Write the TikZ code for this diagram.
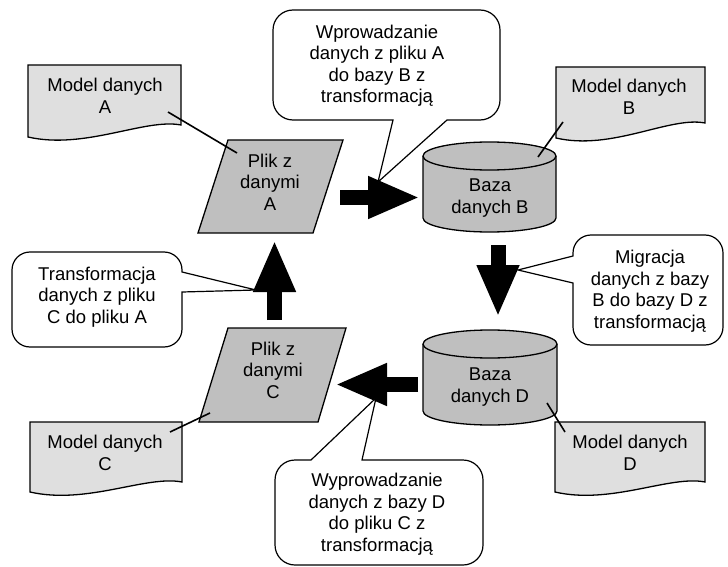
\documentclass[tikz,border=0pt]{standalone}
\usepackage{fontspec}
\setmainfont{Liberation Sans}
\usetikzlibrary{arrows.meta}

\begin{document}
\begin{tikzpicture}[x=1pt,y=1pt,
  tekst/.style={align=center,font=\fontsize{18.5}{21.5}\selectfont,inner sep=0pt},
  model/.style={draw,line width=1.3pt,fill=gray!25},
  ksztalt/.style={draw,line width=1.3pt,fill=gray!50},
  dymek/.style={draw,line width=1.2pt,fill=white},
  odnosnik/.style={line width=1.6pt},
  strzalka/.style={line width=15pt,-{Triangle[length=52pt,width=39pt]}}]

\useasboundingbox (0,0) rectangle (728,-567);

% modele danych
\draw[model] (28,-65) -- (181,-65) -- (181,-125) .. controls (145,-118) and (85,-150) .. (28,-137) -- cycle;
\draw[model] (556,-67) -- (705,-67) -- (705,-123) .. controls (670,-116) and (612,-151) .. (556,-138) -- cycle;
\draw[model] (30,-422) -- (182,-422) -- (182,-482) .. controls (146,-475) and (87,-505) .. (30,-492) -- cycle;
\draw[model] (555,-422) -- (705,-422) -- (705,-482) .. controls (670,-475) and (611,-505) .. (555,-492) -- cycle;

% pliki
\draw[ksztalt] (228,-140) -- (343,-140) -- (313,-233) -- (198,-233) -- cycle;
\draw[ksztalt] (228,-328) -- (346,-328) -- (318,-422) -- (199,-422) -- cycle;

% bazy
\draw[ksztalt] (423,-156) -- (423,-218) arc[start angle=180,end angle=360,x radius=66.5,y radius=14]
  -- (556,-156) arc[start angle=0,end angle=180,x radius=66.5,y radius=14] -- cycle;
\draw[line width=1.3pt] (423,-156) arc[start angle=180,end angle=360,x radius=66.5,y radius=14];
\draw[ksztalt] (423,-344) -- (423,-411) arc[start angle=180,end angle=360,x radius=67,y radius=14]
  -- (557,-344) arc[start angle=0,end angle=180,x radius=67,y radius=14] -- cycle;
\draw[line width=1.3pt] (423,-344) arc[start angle=180,end angle=360,x radius=67,y radius=14];

\node[tekst] (modelA) at (105,-96) {Model danych\\A};
\node[tekst] (modelB) at (629,-97) {Model danych\\B};
\node[tekst] (modelC) at (105,-453) {Model danych\\C};
\node[tekst] (modelD) at (630,-453) {Model danych\\D};
\node[tekst] (plikA) at (270,-182) {Plik z\\danymi\\A};
\node[tekst] (plikC) at (273,-370) {Plik z\\danymi\\C};
\node[tekst] (bazaB) at (490,-198) {Baza\\danych B};
\node[tekst] (bazaD) at (490,-387) {Baza\\danych D};

% odnosniki modeli
\coordinate (oA1) at (168,-112); \coordinate (oA2) at (237,-153);
\coordinate (oB1) at (563,-122); \coordinate (oB2) at (538,-157);
\coordinate (oC1) at (170,-432); \coordinate (oC2) at (210,-413);
\coordinate (oD1) at (547,-403); \coordinate (oD2) at (565,-432);
\draw[odnosnik] (oA1) -- (oA2);
\draw[odnosnik] (oB1) -- (oB2);
\draw[odnosnik] (oC1) -- (oC2);
\draw[odnosnik] (oD1) -- (oD2);

% przeplyw danych
\coordinate (sAB1) at (340,-197.5); \coordinate (sAB2) at (420,-197.5);
\coordinate (sBD1) at (498,-245);   \coordinate (sBD2) at (498,-317);
\coordinate (sDC1) at (418,-384.5); \coordinate (sDC2) at (335,-384.5);
\coordinate (sCA1) at (274.5,-320); \coordinate (sCA2) at (274.5,-240);
\draw[strzalka] (sAB1) -- (sAB2);
\draw[strzalka] (sBD1) -- (sBD2);
\draw[strzalka] (sDC1) -- (sDC2);
\draw[strzalka] (sCA1) -- (sCA2);

% dymki
\draw[dymek] (378,-182) -- (393,-120) [rounded corners=20pt] -- (273,-120) -- (273,-10)
  -- (500,-10) -- (500,-120) [sharp corners] -- (447,-120) -- cycle;
\draw[dymek] (518,-270) -- (573,-283) [rounded corners=18pt] -- (573,-345) -- (723,-345)
  -- (723,-235) -- (573,-235) [sharp corners] -- (573,-256) -- cycle;
\draw[dymek] (256,-290) -- (182,-292) [rounded corners=18pt] -- (182,-347) -- (12,-347)
  -- (12,-252) -- (182,-252) [sharp corners] -- (182,-272) -- cycle;
\draw[dymek] (376,-398) -- (362,-460) [rounded corners=20pt] -- (483,-460) -- (483,-565)
  -- (275,-565) -- (275,-460) [sharp corners] -- (311,-460) -- cycle;

\node[tekst] (wpr) at (377,-65.5) {Wprowadzanie\\danych z pliku A\\do bazy B z\\transformacją};
\node[tekst] (migr) at (650,-291) {Migracja\\danych z bazy\\B do bazy D z\\transformacją};
\node[tekst] (transf) at (97,-297) {Transformacja\\danych z pliku\\C do pliku A};
\node[tekst] (wypr) at (377,-514) {Wyprowadzanie\\danych z bazy D\\do pliku C z\\transformacją};
\end{tikzpicture}
\end{document}
